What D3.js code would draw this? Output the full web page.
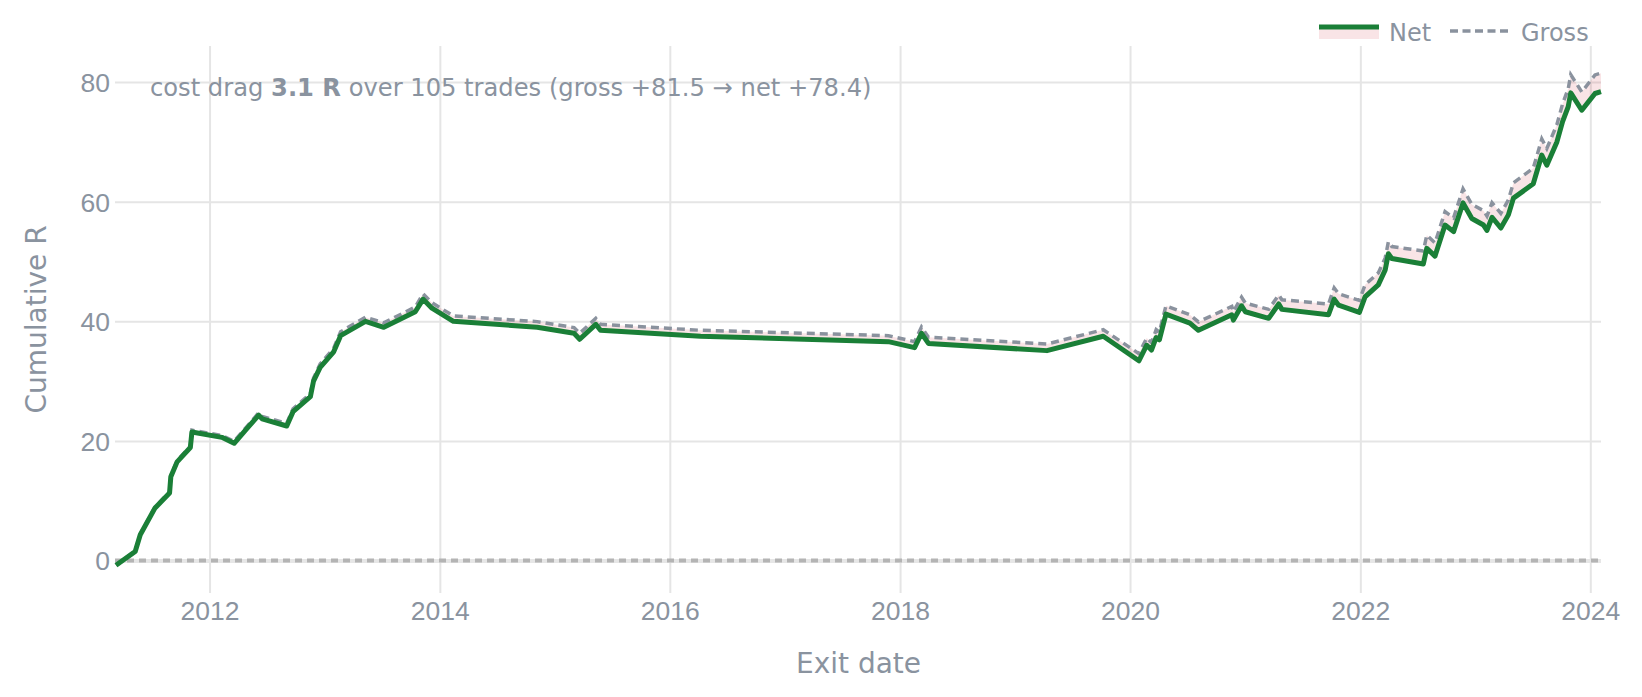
<!DOCTYPE html>
<html>
<head>
<meta charset="utf-8">
<script src="https://cdn.jsdelivr.net/npm/d3@7"></script>
<style>
  body { margin: 0; background: #fff; }
  svg { display: block; font-family: "DejaVu Sans", Verdana, sans-serif; }
</style>
</head>
<body>
<div id="chart"></div>
<script>
// ---------------------------------- DATA ---------------------------------- //

let exit_dates = [
  '2011-03-10', '2011-05-10', '2011-05-26', '2011-07-12', '2011-08-27', '2011-08-31', '2011-09-20', '2011-11-01', '2011-11-06',
  '2012-02-09', '2012-03-19', '2012-04-29', '2012-06-05', '2012-06-16', '2012-09-02', '2012-09-22', '2012-11-16', '2012-11-26', '2012-12-17',
  '2013-01-29', '2013-02-20', '2013-05-10', '2013-07-07', '2013-10-15', '2013-11-09', '2013-12-07',
  '2014-02-13', '2014-11-06', '2015-03-03', '2015-03-21', '2015-05-11', '2015-05-26', '2016-04-08', '2017-11-25',
  '2018-02-16', '2018-03-10', '2018-04-01', '2019-04-12', '2019-10-08',
  '2020-01-29', '2020-02-23', '2020-03-09', '2020-03-24', '2020-04-03', '2020-04-24', '2020-07-09', '2020-08-05', '2020-11-19', '2020-11-24', '2020-12-20',
  '2021-01-01', '2021-03-16', '2021-04-17', '2021-04-27', '2021-09-22', '2021-10-10', '2021-10-24', '2021-12-29',
  '2022-01-16', '2022-02-27', '2022-03-21', '2022-03-31', '2022-04-11', '2022-07-20', '2022-07-31', '2022-08-26', '2022-09-27', '2022-10-24', '2022-11-23', '2022-12-21',
  '2023-01-27', '2023-02-07', '2023-02-23', '2023-03-23', '2023-04-16', '2023-05-02', '2023-07-04', '2023-07-31', '2023-08-16', '2023-09-17', '2023-10-05', '2023-10-23', '2023-10-31', '2023-12-05',
  '2024-01-16', '2024-02-04'
];

let net_r = [
  -0.8, 1.5, 4.3, 8.8, 11.3, 14.0, 16.5, 18.9, 21.5,
  20.6, 19.6, 22.1, 24.3, 23.7, 22.5, 24.9, 27.4, 30.0, 32.3,
  34.9, 37.6, 40.0, 39.0, 41.6, 43.7, 42.2,
  40.0, 39.0, 38.0, 37.0, 39.5, 38.5, 37.5, 36.6,
  35.6, 38.0, 36.3, 35.1, 37.5,
  33.4, 36.0, 35.2, 37.3, 36.9, 41.2, 39.7, 38.5, 41.1, 40.2, 42.6,
  41.6, 40.5, 42.9, 42.0, 41.1, 43.7, 42.7, 41.5,
  44.1, 46.1, 48.6, 51.3, 50.5, 49.6, 52.2, 50.9, 56.1, 55.0, 59.8, 57.2,
  56.1, 55.2, 57.4, 55.6, 57.8, 60.6, 63.0, 67.8, 66.1, 70.0, 73.4, 75.9, 78.2, 75.3,
  78.1, 78.4
];

let gross_r = [
  -0.75, 1.6, 4.4, 8.95, 11.5, 14.2, 16.7, 19.15, 21.8,
  20.9, 19.95, 22.45, 24.7, 24.1, 22.95, 25.35, 27.9, 30.5, 32.85,
  35.5, 38.25, 40.7, 39.75, 42.4, 44.6, 43.1,
  40.9, 39.95, 38.95, 38.0, 40.5, 39.5, 38.5, 37.6,
  36.6, 39.05, 37.35, 36.2, 38.6,
  34.6, 37.2, 36.45, 38.6, 38.2, 42.6, 41.1, 39.9, 42.5, 41.6, 44.05,
  43.05, 42.0, 44.4, 43.6, 42.9, 45.6, 44.6, 43.5,
  46.1, 48.1, 50.6, 53.3, 52.5, 51.75, 54.4, 53.1, 58.35, 57.3, 62.15, 59.55,
  58.5, 57.6, 59.85, 58.05, 60.3, 63.15, 65.6, 70.5, 68.9, 72.9, 76.35, 78.9, 81.25, 78.35,
  81.2, 81.5
];

let x_ticks = ['2012-01-01', '2014-01-01', '2016-01-01', '2018-01-01', '2020-01-01', '2022-01-01', '2024-01-01'];
let y_ticks = [0, 20, 40, 60, 80];
let y_extent = [-5.43, 86.04];

let cost_drag = 3.1;
let trade_count = 105;
let gross_total = 81.5;
let net_total = 78.4;

// ---------------------------------- SETTINGS ---------------------------------- //

let img_width = 1642;
let img_height = 697;
let plot_left = 116;
let plot_right = 1601;
let plot_top = 46;
let plot_bottom = 593;
let tick_font = 26.5;
let text_color = '#8a939f';
let grid_color = '#e5e5e5';
let net_color = '#1a7f37';
let gross_color = '#8a929e';
let fill_color = 'rgba(207, 34, 46, 0.12)';
let zero_color = '#b4b4b4';

// ---------------------------------- SCALES ---------------------------------- //

let parse_date = d3.timeParse('%Y-%m-%d');
let rows = exit_dates.map((d, i) => ({ date: parse_date(d), net: net_r[i], gross: gross_r[i] }));

let x = d3.scaleTime()
  .domain(d3.extent(rows, d => d.date))
  .range([plot_left, plot_right]);
let y = d3.scaleLinear()
  .domain(y_extent)
  .range([plot_bottom, plot_top]);

// ---------------------------------- CORE IMAGE ---------------------------------- //

let svg = d3.select('#chart')
  .append('svg')
  .attr('width', img_width)
  .attr('height', img_height);

// grid + ticks
let x_axis = d3.axisBottom(x)
  .tickValues(x_ticks.map(parse_date))
  .tickFormat(d3.timeFormat('%Y'))
  .tickSize(-(plot_bottom - plot_top))
  .tickPadding(0);
let gx = svg.append('g')
  .attr('transform', `translate(0,${plot_bottom})`)
  .call(x_axis);
gx.select('.domain').remove();
gx.selectAll('line').attr('stroke', grid_color).attr('stroke-width', 2);
gx.selectAll('text')
  .attr('fill', text_color)
  .attr('font-size', tick_font)
  .attr('dy', null)
  .attr('y', 27);

let y_axis = d3.axisLeft(y)
  .tickValues(y_ticks)
  .tickSize(-(plot_right - plot_left))
  .tickPadding(6);
let gy = svg.append('g')
  .attr('transform', `translate(${plot_left},0)`)
  .call(y_axis);
gy.select('.domain').remove();
gy.selectAll('line')
  .attr('x1', -1)
  .attr('stroke', d => d === 0 ? '#e6e6e6' : grid_color)
  .attr('stroke-width', d => d === 0 ? 4 : 2);
gy.selectAll('text')
  .attr('fill', text_color)
  .attr('font-size', tick_font)
  .attr('dy', '0.35em');

// dashed zero reference
svg.append('line')
  .attr('x1', plot_left - 1)
  .attr('x2', plot_right)
  .attr('y1', y(0))
  .attr('y2', y(0))
  .attr('stroke', zero_color)
  .attr('stroke-width', 4)
  .attr('stroke-dasharray', '7,5');

// ---------------------------------- SERIES ---------------------------------- //

let area = d3.area()
  .x(d => x(d.date))
  .y0(d => y(d.net))
  .y1(d => y(d.gross));

svg.append('path')
  .datum(rows)
  .attr('d', area)
  .attr('fill', fill_color);

svg.append('path')
  .datum(rows)
  .attr('d', d3.line().x(d => x(d.date)).y(d => y(d.gross)))
  .attr('fill', 'none')
  .attr('stroke', gross_color)
  .attr('stroke-width', 3.5)
  .attr('stroke-dasharray', '8,5');

svg.append('path')
  .datum(rows)
  .attr('d', d3.line().x(d => x(d.date)).y(d => y(d.net)))
  .attr('fill', 'none')
  .attr('stroke', net_color)
  .attr('stroke-width', 5)
  .attr('stroke-linejoin', 'round');

// ---------------------------------- ANNOTATION ---------------------------------- //

let note = svg.append('text')
  .attr('x', 150)
  .attr('y', 96)
  .attr('fill', text_color)
  .attr('font-size', 24.2);
note.append('tspan').text('cost drag ');
note.append('tspan').attr('font-weight', 'bold').text(`${cost_drag} R`);
note.append('tspan').text(` over ${trade_count} trades (gross +${gross_total} → net +${net_total})`);

// ---------------------------------- AXIS TITLES ---------------------------------- //

svg.append('text')
  .attr('transform', `translate(45.5,${(plot_top + plot_bottom) / 2}) rotate(-90)`)
  .attr('text-anchor', 'middle')
  .attr('fill', text_color)
  .attr('font-size', 28)
  .text('Cumulative R');

svg.append('text')
  .attr('x', (plot_left + plot_right) / 2)
  .attr('y', 673)
  .attr('text-anchor', 'middle')
  .attr('fill', text_color)
  .attr('font-size', 28)
  .text('Exit date');

// ---------------------------------- LEGEND ---------------------------------- //

let legend = svg.append('g');
legend.append('rect')
  .attr('x', 1319).attr('y', 27)
  .attr('width', 60).attr('height', 12)
  .attr('fill', fill_color);
legend.append('line')
  .attr('x1', 1319).attr('x2', 1379)
  .attr('y1', 27).attr('y2', 27)
  .attr('stroke', net_color)
  .attr('stroke-width', 5);
legend.append('text')
  .attr('x', 1389).attr('y', 41)
  .attr('fill', text_color)
  .attr('font-size', 24)
  .text('Net');
legend.append('line')
  .attr('x1', 1450).attr('x2', 1508)
  .attr('y1', 31).attr('y2', 31)
  .attr('stroke', gross_color)
  .attr('stroke-width', 3.5)
  .attr('stroke-dasharray', '8,4.5');
legend.append('text')
  .attr('x', 1521).attr('y', 41)
  .attr('fill', text_color)
  .attr('font-size', 24)
  .text('Gross');
</script>
</body>
</html>
